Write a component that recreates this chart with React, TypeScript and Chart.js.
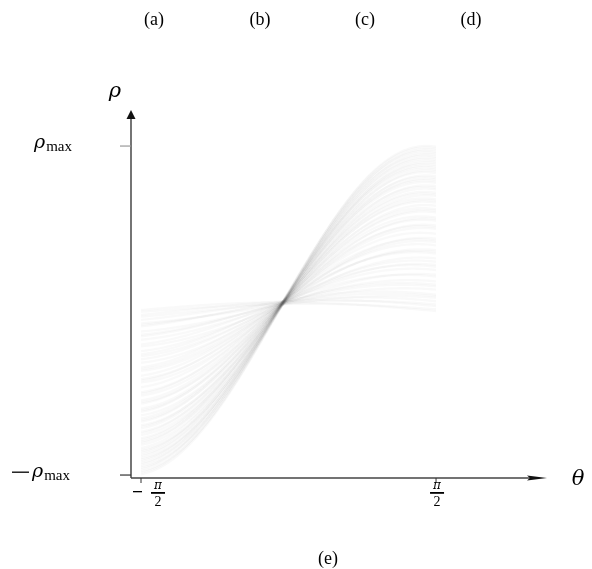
import React, { useEffect, useRef } from "react";
import { Chart, registerables } from "chart.js";

Chart.register(...registerables);

// Hough-space curves of edge points lying (almost) on one line; one curve per point
const lineNormalAngle = -0.06;
const lineNormalDistance = 0.046;
const pointOffsets = [
  0.0, 0.01, 0.03, 0.04, 0.06, 0.08, 0.09, 0.1, 0.13, 0.15, 0.16, 0.18, 0.21, 0.22, 0.25,
  0.27, 0.28, 0.3, 0.32, 0.35, 0.36, 0.37, 0.4, 0.42, 0.43, 0.44, 0.47, 0.5, 0.51, 0.52,
  0.55, 0.56, 0.57, 0.6, 0.61, 0.62, 0.64, 0.66, 0.67, 0.68, 0.7, 0.71, 0.72, 0.74, 0.75,
  0.76, 0.78, 0.79, 0.8, 0.81, 0.82, 0.84, 0.85, 0.86, 0.87, 0.88, 0.89, 0.9, 0.91, 0.92,
  0.93, 0.94, 0.95, 0.96, 0.97, 0.98, 0.99, 1.0,
];
// small deviations of each point from the ideal line (normal direction)
const pointDeviations = [
  0.004, -0.006, 0.01, -0.002, 0.007, -0.01, 0.003, 0.012, -0.008, 0.0, 0.006, -0.004,
  0.009, -0.012, 0.002, 0.011, -0.005, 0.004, -0.009, 0.013, 0.001, -0.007, 0.008, -0.003,
  0.01, -0.011, 0.005, -0.001, 0.012, -0.006, 0.003, -0.01, 0.007, 0.0, -0.004, 0.011,
  -0.008, 0.006, -0.002, 0.009, -0.012, 0.004, 0.001, -0.005, 0.01, -0.009, 0.002, 0.008,
  -0.003, 0.012, -0.007, 0.005, -0.01, 0.003, 0.009, -0.001, 0.006, -0.011, 0.0, 0.007,
  -0.004, 0.011, -0.006, 0.002, 0.01, -0.008, 0.004, -0.002,
];
const thetaStepCount = 120;

const topLabels = ["(a)", "(b)", "(c)", "(d)"];
const bottomLabel = "(e)";
const rhoTicks = [1, -1];
const thetaTicks = [-Math.PI / 2, Math.PI / 2];

const X_MIN = -1.6773;
const X_MAX = 2.731;
const Y_MIN = -1.018;
const Y_MAX = 1.207;

const axisPlugin = {
  id: "houghAxes",
  afterDraw(chart: any) {
    const { ctx, chartArea, scales } = chart;
    const xs = scales.x;
    const ys = scales.y;
    const ox = chartArea.left;
    const oy = chartArea.bottom;
    ctx.save();
    ctx.strokeStyle = "#2a2a2a";
    ctx.lineWidth = 1.3;
    ctx.beginPath();
    ctx.moveTo(ox, oy);
    ctx.lineTo(ox, chartArea.top + 6);
    ctx.stroke();
    ctx.strokeStyle = "#444";
    ctx.beginPath();
    ctx.moveTo(ox, oy);
    ctx.lineTo(chartArea.right - 14, oy);
    ctx.stroke();
    ctx.fillStyle = "#111";
    ctx.beginPath();
    ctx.moveTo(ox, chartArea.top - 2);
    ctx.lineTo(ox - 4.5, chartArea.top + 7);
    ctx.lineTo(ox + 4.5, chartArea.top + 7);
    ctx.closePath();
    ctx.fill();
    ctx.beginPath();
    ctx.moveTo(chartArea.right + 2, oy);
    ctx.lineTo(chartArea.right - 18, oy - 2.5);
    ctx.lineTo(chartArea.right - 15, oy);
    ctx.lineTo(chartArea.right - 18, oy + 2.5);
    ctx.closePath();
    ctx.fill();

    rhoTicks.forEach((v) => {
      const py = ys.getPixelForValue(v);
      ctx.strokeStyle = v > 0 ? "#999" : "#333";
      ctx.lineWidth = 1.2;
      ctx.beginPath();
      ctx.moveTo(ox - 11, py);
      ctx.lineTo(ox, py);
      ctx.stroke();
      ctx.fillStyle = "#000";
      ctx.textBaseline = "alphabetic";
      ctx.textAlign = "left";
      let x = v > 0 ? 34 : 12;
      const base = py + 2;
      if (v < 0) {
        ctx.fillRect(x, base - 5.5, 17, 1.3);
        x += 20;
      }
      ctx.font = "italic 19px 'DejaVu Serif'";
      ctx.fillText("ρ", x, base);
      x += ctx.measureText("ρ").width;
      ctx.font = "15px 'Liberation Serif'";
      ctx.fillText("max", x + 1, base + 3);
    });

    thetaTicks.forEach((v) => {
      const px = xs.getPixelForValue(v);
      ctx.strokeStyle = "#333";
      ctx.lineWidth = 1;
      ctx.beginPath();
      ctx.moveTo(px, oy);
      ctx.lineTo(px, oy + 5);
      ctx.stroke();
      const fx = v < 0 ? px + 17 : px + 1;
      ctx.fillStyle = "#000";
      if (v < 0) {
        ctx.fillRect(px - 8, oy + 13, 9, 1.3);
      }
      ctx.textAlign = "center";
      ctx.textBaseline = "alphabetic";
      ctx.font = "italic 12px 'DejaVu Serif'";
      ctx.fillText("π", fx, oy + 11);
      ctx.fillRect(fx - 7, oy + 14, 14, 1.8);
      ctx.font = "14px 'Liberation Serif'";
      ctx.fillText("2", fx, oy + 28);
    });

    ctx.textAlign = "center";
    ctx.textBaseline = "middle";
    ctx.font = "italic 21px 'DejaVu Serif'";
    ctx.fillText("θ", 578, oy + 2);
    ctx.fillText("ρ", 115, 92);

    ctx.font = "18px 'Liberation Serif'";
    const tops = [154, 260, 365, 471];
    topLabels.forEach((t, i) => ctx.fillText(t, tops[i], 20));
    ctx.fillText(bottomLabel, 328, 559);
    ctx.restore();
  },
};

export default function App() {
  const ref = useRef<HTMLCanvasElement | null>(null);
  useEffect(() => {
    if (!ref.current) return;
    const datasets = pointOffsets.map((t, k) => {
      const d = lineNormalDistance + pointDeviations[k];
      const pts: { x: number; y: number }[] = [];
      for (let i = 0; i <= thetaStepCount; i++) {
        const th = -Math.PI / 2 + (Math.PI * i) / thetaStepCount;
        const rho = d * Math.cos(th - lineNormalAngle) + t * Math.sin(th - lineNormalAngle);
        pts.push({ x: th, y: rho });
      }
      return {
        data: pts,
        borderColor: "rgba(0,0,0,0.022)",
        borderWidth: 2.4,
        pointRadius: 0,
        tension: 0,
        fill: false,
      };
    });
    const chart = new Chart(ref.current, {
      type: "line",
      data: { datasets },
      options: {
        animation: false,
        responsive: true,
        maintainAspectRatio: false,
        parsing: false as any,
        normalized: true,
        layout: { padding: { left: 131, right: 47, top: 112, bottom: 91 } },
        plugins: { legend: { display: false }, tooltip: { enabled: false } },
        events: [],
        scales: {
          x: { type: "linear", min: X_MIN, max: X_MAX, display: false },
          y: { type: "linear", min: Y_MIN, max: Y_MAX, display: false },
        },
      },
      plugins: [axisPlugin],
    });
    return () => chart.destroy();
  }, []);
  return (
    <div style={{ position: "fixed", left: 0, top: 0, width: 592, height: 569, background: "#fff" }}>
      <canvas ref={ref} />
    </div>
  );
}
